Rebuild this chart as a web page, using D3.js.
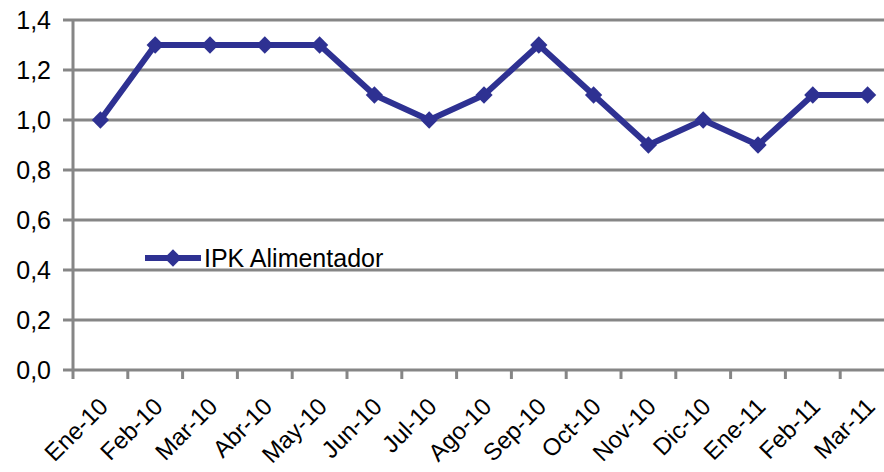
<!DOCTYPE html>
<meta charset="utf-8">
<head>
  <title>IPK Alimentador</title>
</head>

<style>
body { margin: 0; background: #fff; }
text {
  font-family: Arial, "Liberation Sans", Helvetica, sans-serif;
  fill: #000;
}
.grid line { stroke: #868686; stroke-width: 3; }
</style>

<body>
  <svg width="884" height="472"></svg>

  <script src="https://cdnjs.cloudflare.com/ajax/libs/d3/7.8.5/d3.min.js"></script>
  <script>
var months = ['Ene-10', 'Feb-10', 'Mar-10', 'Abr-10', 'May-10', 'Jun-10', 'Jul-10',
  'Ago-10', 'Sep-10', 'Oct-10', 'Nov-10', 'Dic-10', 'Ene-11', 'Feb-11', 'Mar-11'];
var ipk = [1.0, 1.3, 1.3, 1.3, 1.3, 1.1, 1.0, 1.1, 1.3, 1.1, 0.9, 1.0, 0.9, 1.1, 1.1];
var yTicks = [0, 0.2, 0.4, 0.6, 0.8, 1.0, 1.2, 1.4];
var seriesName = 'IPK Alimentador';
var blue = '#2e3192';

var svg = d3.select('svg');
var plotLeft = 73, plotTop = 20, plotBottom = 370;

var x = d3.scaleBand()
  .domain(months)
  .range([plotLeft, plotLeft + 15 * 54.8]);

var y = d3.scaleLinear()
  .domain([0, 1.4])
  .range([plotBottom, plotTop]);

var fmt = function(d) { return d3.format('.1f')(d).replace('.', ','); };

// horizontal gridlines (0 is drawn as the axis)
svg.append('g')
  .attr('class', 'grid')
  .selectAll('line')
  .data(yTicks)
  .enter()
  .append('line')
  .attr('x1', plotLeft - 10)
  .attr('x2', 884)
  .attr('y1', function(d) { return y(d); })
  .attr('y2', function(d) { return y(d); });

// y labels
svg.append('g')
  .selectAll('text')
  .data(yTicks)
  .enter()
  .append('text')
  .attr('x', 51)
  .attr('y', function(d) { return y(d); })
  .attr('dy', '0.35em')
  .attr('text-anchor', 'end')
  .style('font-size', '25px')
  .text(fmt);

// y axis line
svg.append('line')
  .attr('x1', plotLeft).attr('x2', plotLeft)
  .attr('y1', plotTop).attr('y2', plotBottom)
  .attr('stroke', '#868686')
  .attr('stroke-width', 3);

// tick marks between categories
svg.append('g')
  .selectAll('line')
  .data(months)
  .enter()
  .append('line')
  .attr('x1', function(d) { return x(d); })
  .attr('x2', function(d) { return x(d); })
  .attr('y1', plotBottom)
  .attr('y2', plotBottom + 9)
  .attr('stroke', '#868686')
  .attr('stroke-width', 3);

// x labels
svg.append('g')
  .selectAll('text')
  .data(months)
  .enter()
  .append('text')
  .attr('transform', function(d) {
    return 'translate(' + (x(d) + x.bandwidth() / 2 + 3) + ',' + 402 + ') rotate(-45)';
  })
  .attr('dy', '0.35em')
  .attr('text-anchor', 'end')
  .style('font-size', '24px')
  .text(function(d) { return d; });

// series line
var line = d3.line()
  .x(function(d, i) { return x(months[i]) + x.bandwidth() / 2; })
  .y(function(d) { return y(d); });

svg.append('path')
  .datum(ipk)
  .attr('d', line)
  .attr('fill', 'none')
  .attr('stroke', blue)
  .attr('stroke-width', 6)
  .attr('stroke-linejoin', 'round');

var diamond = d3.symbol().type(d3.symbolDiamond2).size(190);

svg.append('g')
  .selectAll('path')
  .data(ipk)
  .enter()
  .append('path')
  .attr('d', diamond)
  .attr('transform', function(d, i) {
    return 'translate(' + (x(months[i]) + x.bandwidth() / 2) + ',' + y(d) + ')';
  })
  .attr('fill', blue);

// legend
var lg = svg.append('g').attr('transform', 'translate(145,258)');
lg.append('line')
  .attr('x1', 0).attr('x2', 56)
  .attr('stroke', blue)
  .attr('stroke-width', 6);
lg.append('path')
  .attr('d', diamond)
  .attr('transform', 'translate(28,0)')
  .attr('fill', blue);
lg.append('text')
  .attr('x', 59)
  .attr('dy', '0.35em')
  .style('font-size', '25px')
  .text(seriesName);
  </script>
</body>
</html>
